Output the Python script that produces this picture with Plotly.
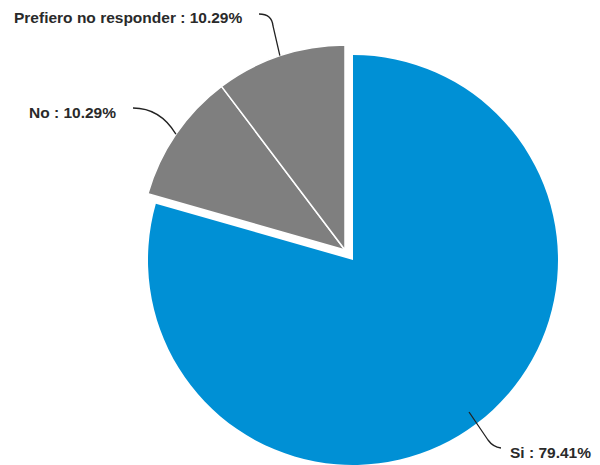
import math
import plotly.graph_objects as go

labels = ["Si", "No", "Prefiero no responder"]
values = [79.41, 10.29, 10.29]
colors = ["#0090d5", "#7f7f7f", "#7f7f7f"]

W, H = 600, 465
CX, CY, R = 353, 260, 205      # pie centre / radius in pixels
DX, DY = -8, -10               # explode offset of the grey group

def px(x):
    return x / W

def py(y):
    return 1 - y / H

def dom(cx, cy):
    return dict(x=[px(cx - R), px(cx + R)], y=[max(0, py(cy + R)), py(cy - R)])

T = "rgba(0,0,0,0)"
fig = go.Figure()
fig.add_trace(go.Pie(
    labels=labels, values=values, sort=False, direction="clockwise", rotation=0,
    marker=dict(colors=[colors[0], T, T], line=dict(width=0)),
    textinfo="none", hoverinfo="label+percent", showlegend=False,
    domain=dom(CX, CY),
))
fig.add_trace(go.Pie(
    labels=labels, values=values, sort=False, direction="clockwise", rotation=0,
    marker=dict(colors=[T, colors[1], colors[2]],
                line=dict(width=1.5, color=[T, "white", "white"])),
    textinfo="none", hoverinfo="label+percent", showlegend=False,
    domain=dom(CX + DX, CY + DY),
))

# arc points at slice middles
total = sum(values)
cum = 0
mids = []
for v in values:
    mids.append((cum + v / 2) / total * 2 * math.pi)
    cum += v

def arc(i, cx, cy):
    a = mids[i]
    return cx + R * math.sin(a), cy - R * math.cos(a)

def P(x, y):
    return f"{px(x):.5f},{py(y):.5f}"

line = dict(color="#222222", width=1.3)
shapes = []
# Prefiero
ax, ay = arc(2, CX + DX, CY + DY)
shapes.append(dict(type="path", xref="paper", yref="paper", line=line,
                   path=f"M {P(259,14)} Q {P(272,14)} {P(273,26)} L {P(ax,ay)}"))
# No
ax, ay = arc(1, CX + DX, CY + DY)
shapes.append(dict(type="path", xref="paper", yref="paper", line=line,
                   path=f"M {P(133,108)} Q {P(160,108)} {P(ax,ay)}"))
# Si
shapes.append(dict(type="path", xref="paper", yref="paper", line=line,
                   path=f"M {P(469,412)} L {P(488,440)} Q {P(493,447)} {P(501,448)}"))

font = dict(family="Liberation Sans, Arial, sans-serif", size=15.5, color="#2a2a2a")
ann = [
    dict(text=f"<b>{labels[2]} : {values[2]:.2f}%</b>", x=px(244), y=py(18),
         xanchor="right", yanchor="middle"),
    dict(text=f"<b>{labels[1]} : {values[1]:.2f}%</b>", x=px(118), y=py(112),
         xanchor="right", yanchor="middle"),
    dict(text=f"<b>{labels[0]} : {values[0]:.2f}%</b>", x=px(508), y=py(452),
         xanchor="left", yanchor="middle"),
]
for a in ann:
    a.update(xref="paper", yref="paper", showarrow=False, font=font)

fig.update_layout(
    width=W, height=H, margin=dict(l=0, r=0, t=0, b=0),
    paper_bgcolor="white", plot_bgcolor="white",
    shapes=shapes, annotations=ann,
)
fig.write_html("out.html")
